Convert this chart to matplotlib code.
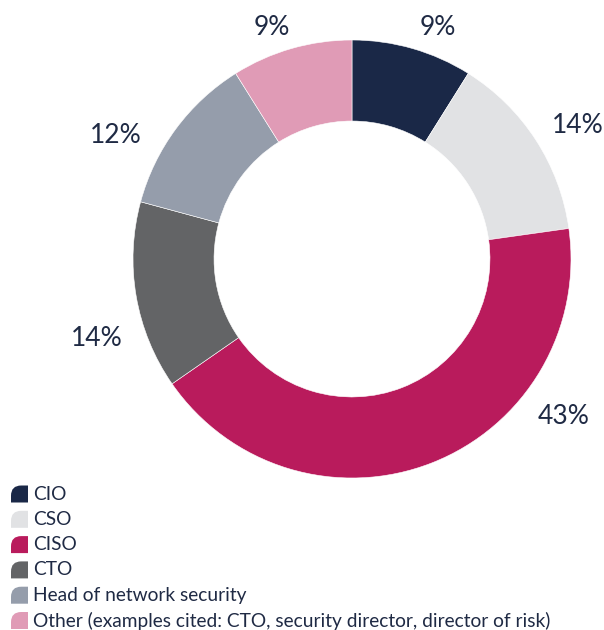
import matplotlib
matplotlib.use("Agg")
import matplotlib.pyplot as plt
from matplotlib.path import Path
from matplotlib.patches import PathPatch
from matplotlib.transforms import Affine2D

plt.rcParams['font.family'] = ['Lato', 'DejaVu Sans']

# ---- data ----
roles = ["CIO", "CSO", "CISO", "CTO", "Head of network security",
         "Other (examples cited: CTO, security director, director of risk)"]
shares = [9, 14, 43, 14, 12, 9]
colors = ["#1a2847", "#e1e2e4", "#b91b5c", "#636466", "#959dab", "#e09bb6"]

# label anchor points, in pixels from the top-left corner of the figure
label_px = [(438, 27), (578, 125), (564, 416), (97, 338), (116, 135), (272, 27)]

TEXT = "#1f2a44"
W, H = 604, 630
CX, CY, R = 352, 259, 219   # donut centre and outer radius in pixels

fig = plt.figure(figsize=(W / 100, H / 100), dpi=100)
ax = fig.add_axes([0, 0, 1, 1])

wedges, _ = ax.pie(shares, colors=colors, startangle=90, counterclock=False,
                   radius=1.0, wedgeprops=dict(width=0.37, edgecolor='white', linewidth=0.4))

# pie() resets the limits, so set them afterwards
ax.set_xlim(-CX / R, (W - CX) / R)
ax.set_ylim(-(H - CY) / R, CY / R)
ax.set_aspect('equal')
ax.axis('off')

for (px, py), v in zip(label_px, shares):
    ax.text((px - CX) / R, (CY - py) / R, f"{v}%", ha='center', va='center',
            fontsize=19, color=TEXT)

# legend: leaf-shaped swatches (rounded top-left corner) + labels
leaf = Path([(0, 0), (1, 0), (1, 1), (0.6, 1), (0, 1), (0, 0.4), (0, 0)],
            [Path.MOVETO, Path.LINETO, Path.LINETO, Path.LINETO,
             Path.CURVE3, Path.CURVE3, Path.CLOSEPOLY])
size = 17
for i, (name, c) in enumerate(zip(roles, colors)):
    yc = 494 + i * 25.3
    tr = Affine2D().scale(size).translate(11, H - yc - size / 2)
    fig.add_artist(PathPatch(leaf, transform=tr, facecolor=c, edgecolor='none'))
    fig.text(33 / W, 1 - yc / H, name, ha='left', va='center', fontsize=13.8, color=TEXT)

fig.savefig("out.png", dpi=100)
